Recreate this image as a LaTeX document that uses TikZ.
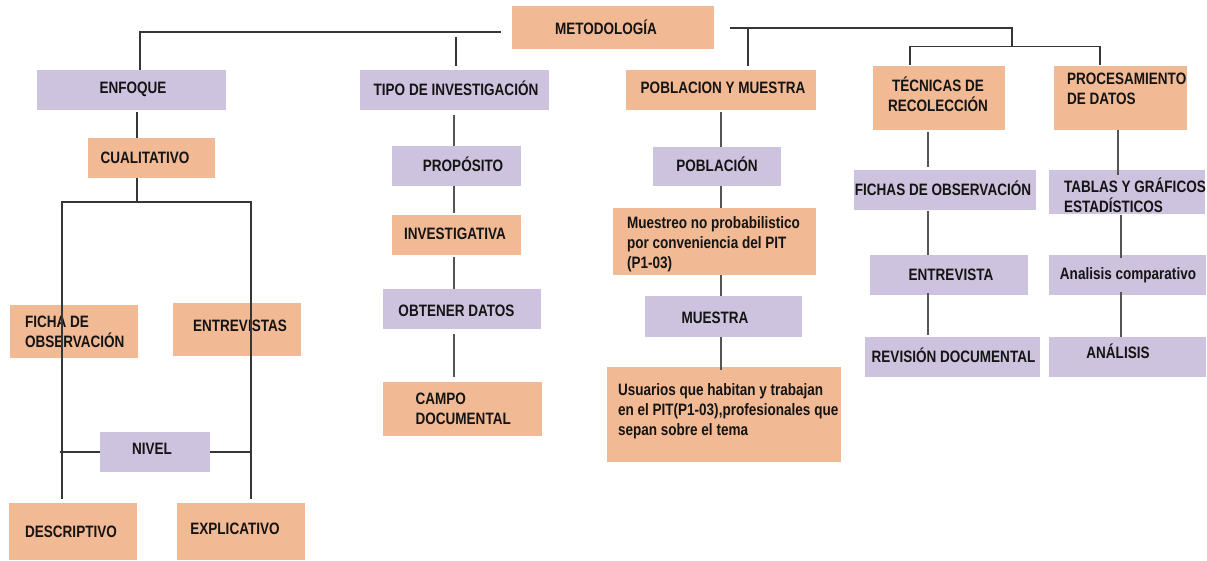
\documentclass[tikz,border=0pt]{standalone}
\usepackage{fontspec}
\newfontfamily\arn{Liberation Sans}[FakeStretch=0.82]
\definecolor{orbox}{HTML}{F2BA94}
\definecolor{pubox}{HTML}{CDC3DE}
\definecolor{lnk}{HTML}{363636}
\newcommand\mybox[6]{\node[#2, minimum width={(#5-#3)*1pt}, minimum height={(#6-#4)*1pt}] (#1) at ({(#3+#5)/2},{(#4+#6)/2}) {};}
\begin{document}
\begin{tikzpicture}[x=1pt,y=-1pt,
  basebox/.style={rectangle, draw=none, inner sep=0pt, outer sep=0pt},
  obox/.style={basebox, fill=orbox},
  pbox/.style={basebox, fill=pubox},
  txt/.style={inner sep=0pt, outer sep=0pt, text=black!92, font=\arn\bfseries\fontsize{16.5}{20}\selectfont},
  ltxt/.style={txt, anchor=west, align=left},
  conn/.style={draw=lnk, line width=1.9pt},
  thin/.style={draw=lnk!85, line width=1.5pt}]
\useasboundingbox (0,0) rectangle (1207,560);
% boxes
\mybox{meto}{obox}{512}{6}{714}{49}
\mybox{enf}{pbox}{37}{70}{226}{110}
\mybox{tipo}{pbox}{360}{70}{549}{110}
\mybox{pob}{obox}{626}{70}{816}{110}
\mybox{tec}{obox}{873}{66}{1005}{130}
\mybox{proc}{obox}{1054}{66}{1187}{130}
\mybox{cual}{obox}{88}{138}{215}{178}
\mybox{prop}{pbox}{392}{146}{521}{186}
\mybox{pobl}{pbox}{653}{147}{781}{186}
\mybox{fichas}{pbox}{854}{170}{1036}{210}
\mybox{tablas}{pbox}{1049}{170}{1205}{214}
\mybox{inv}{obox}{392}{215}{521}{255}
\mybox{muestreo}{obox}{613}{208}{816}{275}
\mybox{entrev}{pbox}{870}{255}{1028}{295}
\mybox{analc}{pbox}{1049}{255}{1206}{295}
\mybox{obt}{pbox}{383}{289}{541}{329}
\mybox{ficha}{obox}{10}{305}{138}{358}
\mybox{entrevs}{obox}{173}{303}{301}{356}
\mybox{muestra}{pbox}{645}{296}{802}{337}
\mybox{revision}{pbox}{865}{337}{1040}{377}
\mybox{analisis}{pbox}{1049}{337}{1206}{377}
\mybox{campo}{obox}{383}{382}{542}{436}
\mybox{usuarios}{obox}{607}{367}{841}{462}
\mybox{nivel}{pbox}{100}{432}{210}{472}
\mybox{desc}{obox}{9}{503}{137}{560}
\mybox{expl}{obox}{177}{503}{305}{560}
% texts
\node[txt] (t-meto) at (606,27) {METODOLOGÍA};
\node[txt] (t-enf) at (133,89) {ENFOQUE};
\node[txt] (t-tipo) at (456,88) {TIPO DE INVESTIGACIÓN};
\node[txt] (t-pob) at (723,88) {POBLACION Y MUESTRA};
\node[txt, align=center] (t-tec) at (938,94) {TÉCNICAS DE\\RECOLECCIÓN};
\node[ltxt] (t-proc) at (1067,89) {PROCESAMIENTO\\DE DATOS};
\node[txt] (t-cual) at (145,158) {CUALITATIVO};
\node[txt] (t-prop) at (463,164) {PROPÓSITO};
\node[txt] (t-pobl) at (717,164) {POBLACIÓN};
\node[txt] (t-fichas) at (943,188) {FICHAS DE OBSERVACIÓN};
\node[ltxt] (t-tablas) at (1064,195) {TABLAS Y GRÁFICOS\\ESTADÍSTICOS};
\node[txt] (t-inv) at (455,234) {INVESTIGATIVA};
\node[ltxt] (t-muestreo) at (627,244) {Muestreo no probabilistico\\por conveniencia del PIT\\(P1-03)};
\node[txt] (t-entrev) at (951,275) {ENTREVISTA};
\node[txt] (t-analc) at (1128,275) {Analisis comparativo};
\node[txt] (t-obt) at (456.5,310.5) {OBTENER DATOS};
\node[ltxt] (t-ficha) at (25,332) {FICHA DE\\OBSERVACIÓN};
\node[txt] (t-entrevs) at (240,326) {ENTREVISTAS};
\node[txt] (t-muestra) at (715,318) {MUESTRA};
\node[txt] (t-revision) at (953.5,355) {REVISIÓN DOCUMENTAL};
\node[txt] (t-analisis) at (1118,351) {ANÁLISIS};
\node[ltxt] (t-campo) at (415.6,409) {CAMPO\\DOCUMENTAL};
\node[ltxt] (t-usuarios) at (618,411) {Usuarios que habitan y trabajan\\en el PIT(P1-03),profesionales que\\sepan sobre el tema};
\node[txt] (t-nivel) at (152,449) {NIVEL};
\node[txt] (t-desc) at (71,532) {DESCRIPTIVO};
\node[txt] (t-expl) at (235,529) {EXPLICATIVO};
% coordinates
\coordinate (m1) at (501,32);
\coordinate (m2) at (730,28);
\coordinate (m3) at (748,28);
\coordinate (jr) at (1012,46.5);
\coordinate (t0) at (456,37);
\coordinate (sp) at (137,202);
% top-level connectors
\draw[conn] (m1) -| (enf.north -| 140,0);
\draw[conn] (t0) -- ([yshift=4pt]tipo.north -| 456,0);
\draw[conn] (m2) -| (jr);
\draw[conn] (m3) -- ([yshift=4pt]pob.north -| 748,0);
\draw[conn] ([yshift=1pt]tec.north -| 910,0) |- (jr) -| ([yshift=1pt]proc.north -| 1100,0);
% enfoque column
\draw[conn] ([yshift=-2pt]enf.south -| 137,0) -- (cual.north -| 137,0);
\draw[conn] (cual.south -| 137,0) -- (sp);
\draw[conn] ([yshift=4pt]desc.north -| 62,0) |- (sp) -| ([yshift=4pt]expl.north -| 251,0);
\draw[conn] (nivel.west) -- (nivel.west -| 60,0);
\draw[conn] (nivel.east) -- (nivel.east -| 251,0);
% tipo column
\draw[thin] ([yshift=-5pt]tipo.south -| 454,0) -- (prop.north -| 454,0);
\draw[thin] (prop.south -| 454,0) -- ([yshift=2pt]inv.north -| 454,0);
\draw[thin] ([yshift=-2pt]inv.south -| 454,0) -- (obt.north -| 454,0);
\draw[thin] ([yshift=-5pt]obt.south -| 454,0) -- ([yshift=5pt]campo.north -| 454,0);
% poblacion column
\draw[thin] ([yshift=-2pt]pob.south -| 721,0) -- (pobl.north -| 721,0);
\draw[thin] (pobl.south -| 721,0) -- (muestreo.north -| 721,0);
\draw[thin] (muestreo.south -| 721,0) -- (muestra.north -| 721,0);
\draw[thin] (muestra.south -| 721,0) -- ([yshift=-3pt]usuarios.north -| 721,0);
% tecnicas column
\draw[thin] ([yshift=-2pt]tec.south -| 928,0) -- ([yshift=3pt]fichas.north -| 928,0);
\draw[thin] ([yshift=-1pt]fichas.south -| 928,0) -- (entrev.north -| 928,0);
\draw[thin] ([yshift=2pt]entrev.south -| 928,0) -- ([yshift=2pt]revision.north -| 928,0);
% procesamiento column
\draw[thin] (proc.south -| 1118,0) -- ([yshift=-5pt]tablas.north -| 1118,0);
\draw[thin] ([yshift=-1pt]tablas.south -| 1121,0) -- ([yshift=-3pt]analc.north -| 1121,0);
\draw[thin] ([yshift=3pt]analc.south -| 1121,0) -- (analisis.north -| 1121,0);
\end{tikzpicture}
\end{document}
